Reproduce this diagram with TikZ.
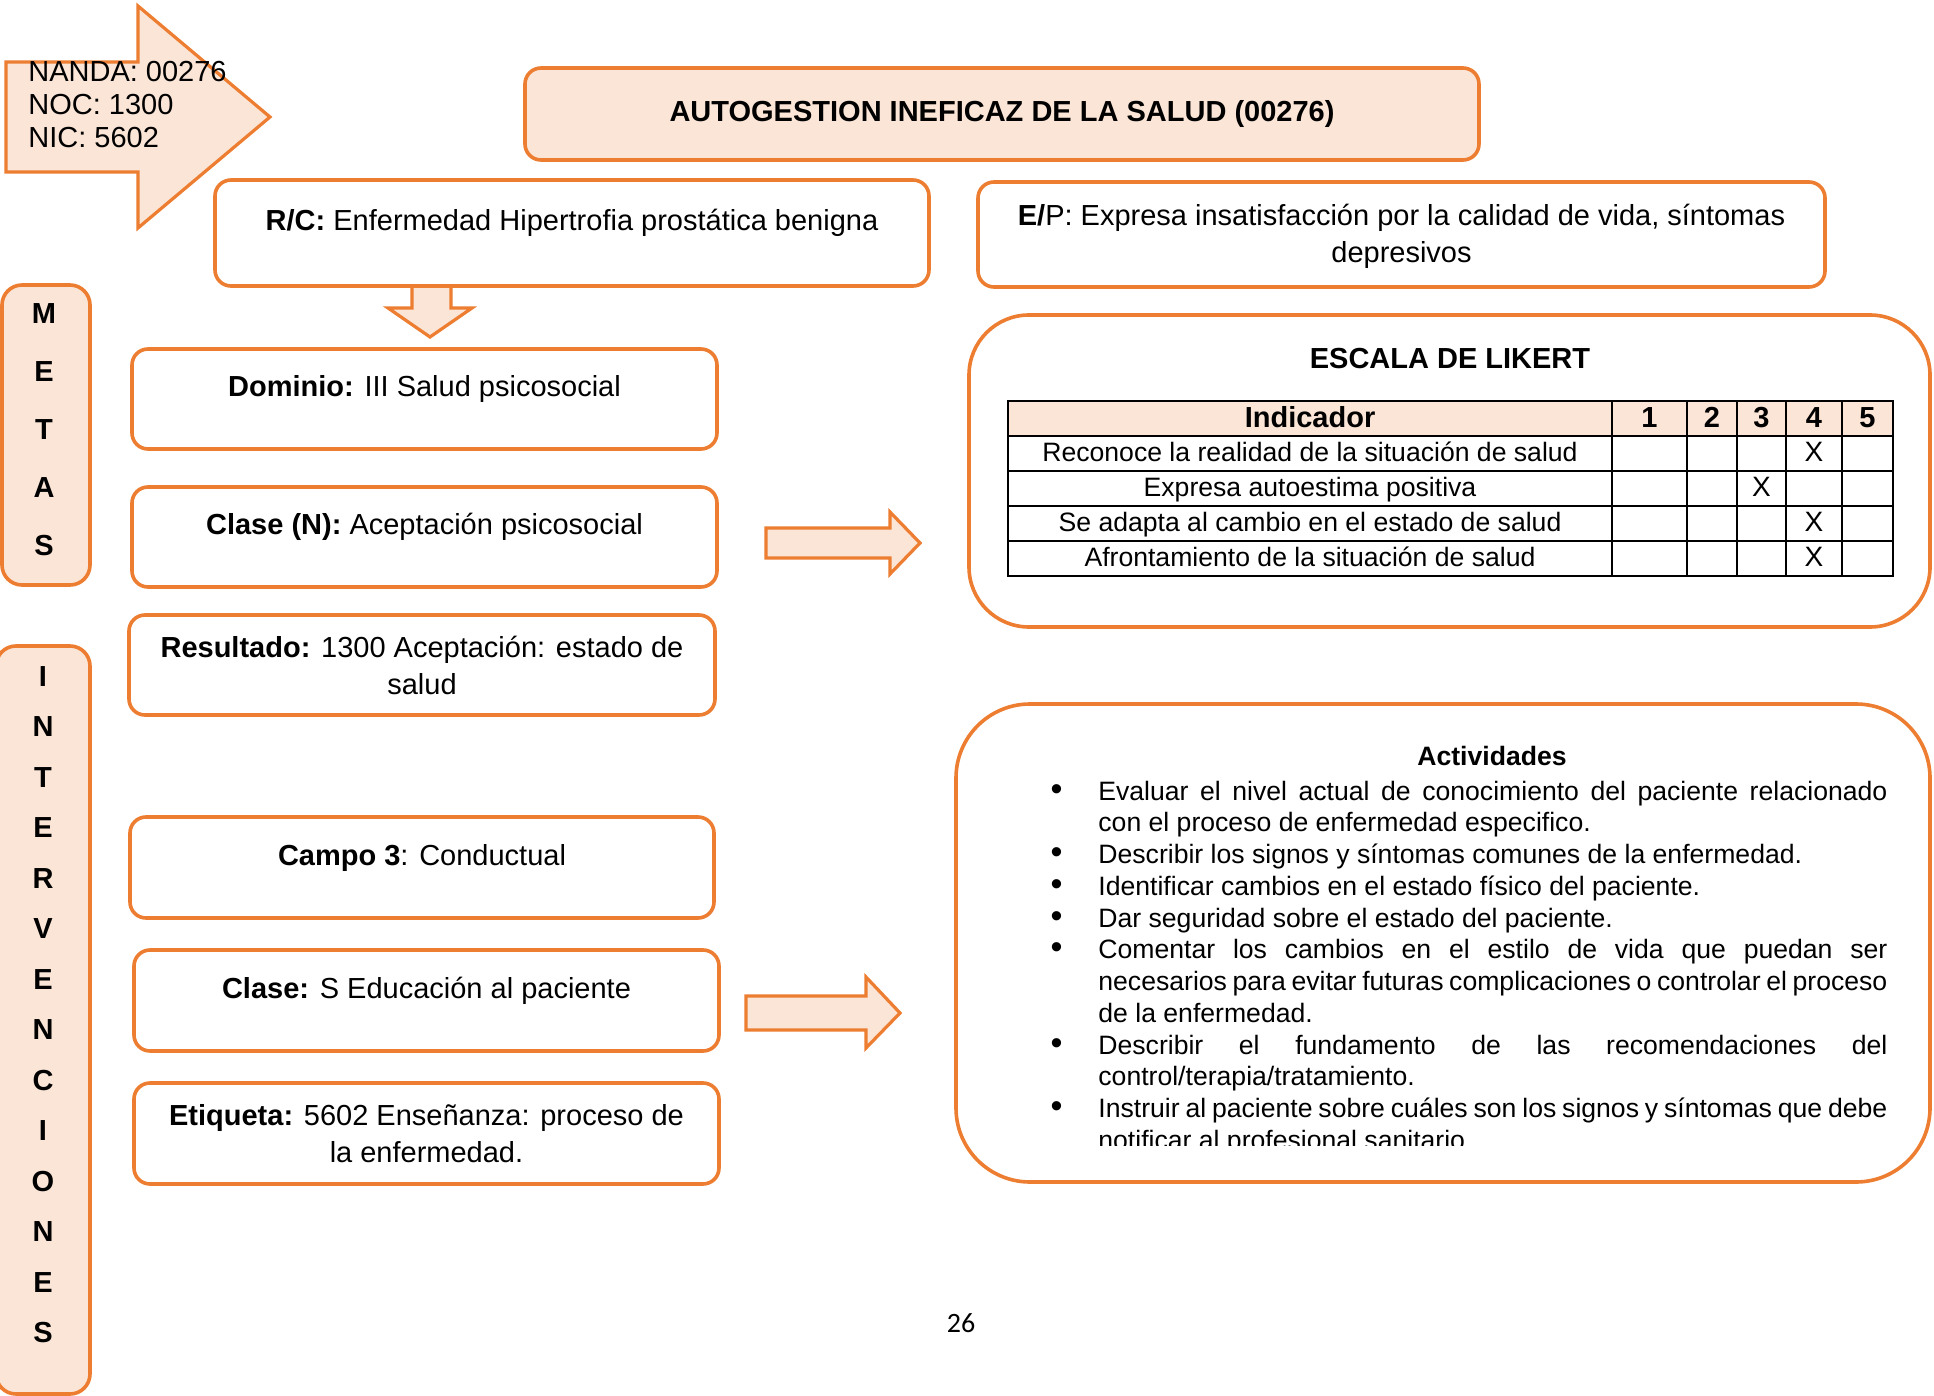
\documentclass[tikz,border=0pt]{standalone}
\usepackage{fontspec}
\setmainfont{Liberation Sans}
\newfontfamily\pagefont{Carlito}
\definecolor{naranja}{HTML}{ED7D31}
\definecolor{durazno}{HTML}{FBE5D6}

\begin{document}
\begin{tikzpicture}[x=0.5pt, y=-0.5pt,
    caja/.style={draw=naranja, line width=1.8pt, fill=white, rounded corners=8pt,
      align=center, inner sep=2pt, font=\fontsize{14.5}{18.5}\selectfont},
    cajaclara/.style={caja, fill=durazno},
    unalinea/.style={text height=10.5pt, text depth=13pt},
    flecha/.style={draw=naranja, fill=durazno, line width=1.6pt},
    letra/.style={font=\fontsize{14.5}{17}\selectfont\bfseries, text height=10.4pt, text depth=0pt, inner sep=0pt},
    celda/.style={font=\fontsize{13.3}{15}\selectfont, text height=9.6pt, text depth=2.8pt, inner sep=0pt},
    celdatit/.style={font=\fontsize{14.5}{16}\selectfont\bfseries, text height=10.5pt, text depth=3pt, inner sep=0pt}]
  \useasboundingbox (0,0) rectangle (1934,1396);

  % Codes arrow
  \draw[flecha] (6,62) -- (138,62) -- (138,6) -- (270,117) -- (138,228) -- (138,172) -- (6,172) -- cycle;
  \node[anchor=base west, inner sep=0pt, font=\fontsize{14.5}{16.5}\selectfont] (nanda) at (28,82) {NANDA: 00276};
  \node[anchor=base west, inner sep=0pt, font=\fontsize{14.5}{16.5}\selectfont] (noc) at (28,115) {NOC: 1300};
  \node[anchor=base west, inner sep=0pt, font=\fontsize{14.5}{16.5}\selectfont] (nic) at (28,148) {NIC: 5602};

  % Diagnosis
  \node[cajaclara, minimum width=477pt, minimum height=46pt] (titulo) at (1002,114)
    {\textbf{AUTOGESTION INEFICAZ DE LA SALUD (00276)}};
  \draw[flecha] (412,285) -- (451,285) -- (451,308) -- (472,308) -- (430,337) -- (388,308) -- (412,308) -- cycle;
  \node[caja, unalinea, minimum width=357pt, minimum height=53pt] (rc) at (572,233)
    {\textbf{R/C:} Enfermedad Hipertrofia prostática benigna};
  \node[caja, text depth=1pt, minimum width=423.5pt, minimum height=52.5pt] (ep) at (1401.5,234.5)
    {\textbf{E/}P: Expresa insatisfacción por la calidad de vida, síntomas\\depresivos};

  % Side labels
  \node[cajaclara, rounded corners=10pt, minimum width=44pt, minimum height=150pt] (metas) at (46,435) {};
  \foreach \l [count=\i] in {M,E,T,A,S}
    \node[letra] (meta\i) at (44,{255+58*\i}) {\l};
  \node[cajaclara, rounded corners=10pt, minimum width=47pt, minimum height=374pt] (interv) at (43,1020) {};
  \foreach \l [count=\i] in {I,N,T,E,R,V,E,N,C,I,O,N,E,S}
    \node[letra] (inter\i) at (43,{625.5+50.5*\i}) {\l};

  % NOC boxes
  \node[caja, unalinea, minimum width=292.5pt, minimum height=50pt] (dominio) at (424.5,399)
    {\textbf{Dominio:} III Salud psicosocial};
  \node[caja, unalinea, minimum width=292.5pt, minimum height=50pt] (clasen) at (424.5,537)
    {\textbf{Clase (N):} Aceptación psicosocial};
  \node[caja, minimum width=293pt, minimum height=50pt] (resultado) at (422,665)
    {\textbf{Resultado:} 1300 Aceptación: estado de\\salud};

  % NIC boxes
  \node[caja, unalinea, minimum width=292pt, minimum height=50.5pt] (campo) at (422,867.5)
    {\textbf{Campo 3}: Conductual};
  \node[caja, unalinea, minimum width=292.5pt, minimum height=50.5pt] (clases) at (426.5,1000.5)
    {\textbf{Clase:} S Educación al paciente};
  \node[caja, minimum width=292.5pt, minimum height=50.5pt] (etiqueta) at (426.5,1133.5)
    {\textbf{Etiqueta:} 5602 Enseñanza: proceso de\\la enfermedad.};

  % Arrows to the right
  \draw[flecha] (766,528) -- (890,528) -- (890,512) -- (920,543) -- (890,574) -- (890,558) -- (766,558) -- cycle;
  \draw[flecha] (746,996) -- (866,996) -- (866,977) -- (900,1013) -- (866,1048) -- (866,1030) -- (746,1030) -- cycle;

  % Likert scale
  \node[caja, rounded corners=30pt, minimum width=480.5pt, minimum height=156pt] (likert) at (1449.5,471) {};
  \node[celdatit] (likerttit) at (1450,361) {ESCALA DE LIKERT};
  \fill[durazno] (1008,401) rectangle (1893,436);
  \draw[line width=0.9pt] (1008,401) rectangle (1893,576);
  \foreach \y in {436,471,506,541}
    \draw[line width=0.9pt] (1008,\y) -- (1893,\y);
  \foreach \x in {1612,1687,1737,1786,1842}
    \draw[line width=0.9pt] (\x,401) -- (\x,576);
  \node[celdatit] (indicador) at (1310,419.5) {Indicador};
  \foreach \xc/\n in {1649.5/1,1712/2,1761.5/3,1814/4,1867.5/5}
    \node[celdatit] (col\n) at (\xc,419.5) {\n};
  \foreach \y/\txt/\xc [count=\i] in {454.5/Reconoce la realidad de la situación de salud/1814,
      489.5/Expresa autoestima positiva/1761.5,
      524.5/Se adapta al cambio en el estado de salud/1814,
      559.5/Afrontamiento de la situación de salud/1814}
  {
    \node[celda] (ind\i) at (1310,\y) {\txt};
    \node[celda, font=\fontsize{14}{15}\selectfont] (marca\i) at (\xc,\y) {X};
  }

  % Activities
  \node[caja, rounded corners=37pt, minimum width=487pt, minimum height=239pt] (activ) at (1443,943) {};
  \node[font=\fontsize{13.3}{16}\selectfont\bfseries] (actividades) at (1492,756) {Actividades};
  \begin{scope}
    \clip (950,700) rectangle (1934,1145);
    \node[anchor=north west, inner sep=0pt, text width=415.5pt, align=justify,
      font=\fontsize{13.3}{15.87}\selectfont] (lista) at (1056,768) {\hyphenpenalty=10000
      \begin{list}{{\fontsize{17}{17}\selectfont\textbullet}}{\setlength{\leftmargin}{21pt}\setlength{\labelsep}{18pt}%
          \setlength{\labelwidth}{10pt}\setlength{\itemsep}{0pt}\setlength{\topsep}{0pt}%
          \setlength{\parsep}{0pt}\setlength{\partopsep}{0pt}}
        \item Evaluar el nivel actual de conocimiento del paciente relacionado\linebreak
          con el proceso de enfermedad especifico.
        \item Describir los signos y síntomas comunes de la enfermedad.
        \item Identificar cambios en el estado físico del paciente.
        \item Dar seguridad sobre el estado del paciente.
        \item Comentar los cambios en el estilo de vida que puedan ser\linebreak
          necesarios para evitar futuras complicaciones o controlar el proceso\linebreak
          de la enfermedad.
        \item Describir el fundamento de las recomendaciones del\linebreak
          control/terapia/tratamiento.
        \item Instruir al paciente sobre cuáles son los signos y síntomas que debe\linebreak
          notificar al profesional sanitario.
      \end{list}};
  \end{scope}

  % Page number
  \node[font=\pagefont\fontsize{14}{16}\selectfont] (pagina) at (961,1323) {26};
\end{tikzpicture}
\end{document}
